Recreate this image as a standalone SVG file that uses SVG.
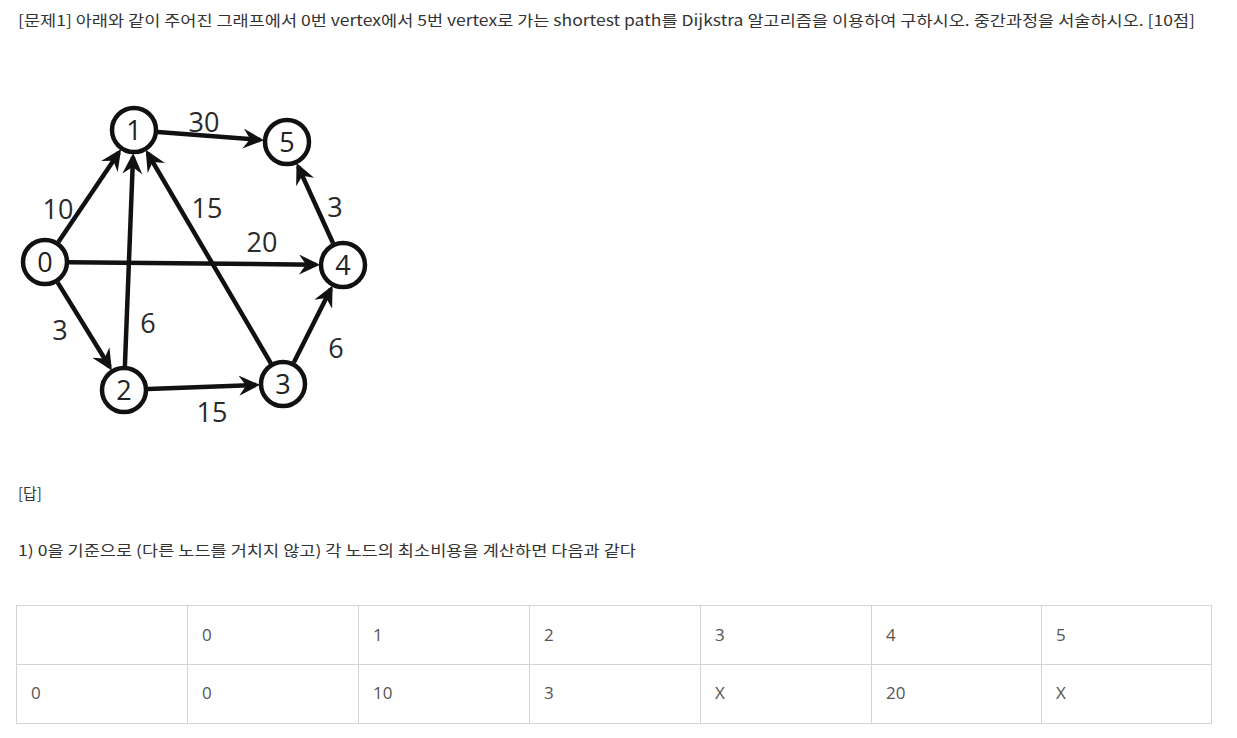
<svg xmlns="http://www.w3.org/2000/svg" width="1237" height="738" viewBox="0 0 1237 738">
<defs>
<style>
.t{font-family:"Noto Sans CJK KR","Noto Sans",sans-serif;font-size:15px;fill:#333}
.n circle{fill:#fff;stroke:#111;stroke-width:4.5}
.n text{font-family:"Open Sans","DejaVu Sans",sans-serif;font-size:27px;fill:#222;text-anchor:middle}
.e line{stroke:#111;stroke-width:4.5;marker-end:url(#ah)}
.lb{font-family:"Open Sans","DejaVu Sans",sans-serif;font-size:27px;fill:#2a2a2a;text-anchor:middle}
.tb{fill:none;stroke:#d4d4d4;stroke-width:1}
.tc{font-family:"Open Sans","Noto Sans",sans-serif;font-size:17px;fill:#555}
</style>
<marker id="ah" markerUnits="userSpaceOnUse" markerWidth="22" markerHeight="20" refX="17" refY="10" orient="auto" viewBox="0 0 22 20">
<path d="M0,0 L21,10 L0,20 L7,10 Z" fill="#111"/>
</marker>
</defs>
<rect width="1237" height="738" fill="#fff"/>
<text class="t" x="18" y="26" textLength="1177" lengthAdjust="spacingAndGlyphs">[문제1] 아래와 같이 주어진 그래프에서 0번 vertex에서 5번 vertex로 가는 shortest path를 Dijkstra 알고리즘을 이용하여 구하시오. 중간과정을 서술하시오. [10점]</text>
<g id="connectors" class="e">
<line x1="58.4" y1="242.1" x2="118.9" y2="152.4"/>
<line x1="124.9" y1="366" x2="133" y2="157"/>
<line x1="270.9" y1="363.3" x2="147.7" y2="153.3"/>
<line x1="157.9" y1="131.9" x2="260.1" y2="139.9"/>
<line x1="69" y1="262.2" x2="316" y2="264.7"/>
<line x1="333.1" y1="243.2" x2="298.2" y2="166.6"/>
<line x1="57.6" y1="282.4" x2="109.8" y2="367"/>
<line x1="148" y1="389.1" x2="256" y2="385"/>
<line x1="293.8" y1="362.6" x2="330.8" y2="289.1"/>
</g>
<g id="edge-labels">
<text class="lb" x="58" y="219">10</text>
<text class="lb" x="204" y="132">30</text>
<text class="lb" x="207" y="218">15</text>
<text class="lb" x="335" y="217">3</text>
<text class="lb" x="262" y="252">20</text>
<text class="lb" x="60" y="340">3</text>
<text class="lb" x="148" y="333">6</text>
<text class="lb" x="336" y="358">6</text>
<text class="lb" x="212" y="422">15</text>
</g>
<g id="node0" class="n"><circle cx="45" cy="262" r="22"/><text x="45" y="272">0</text></g>
<g id="node1" class="n"><circle cx="134" cy="130" r="22"/><text x="134" y="140">1</text></g>
<g id="node2" class="n"><circle cx="124" cy="390" r="22"/><text x="124" y="400">2</text></g>
<g id="node3" class="n"><circle cx="283" cy="384" r="22"/><text x="283" y="394">3</text></g>
<g id="node4" class="n"><circle cx="343" cy="265" r="22"/><text x="343" y="275">4</text></g>
<g id="node5" class="n"><circle cx="287" cy="142" r="22"/><text x="287" y="152">5</text></g>
<text class="t" x="18" y="499">[답]</text>
<text class="t" x="18" y="556" textLength="618" lengthAdjust="spacingAndGlyphs">1) 0을 기준으로 (다른 노드를 거치지 않고) 각 노드의 최소비용을 계산하면 다음과 같다</text>
<g id="table">
<rect class="tb" x="16.5" y="605.5" width="1195" height="118"/>
<line class="tb" x1="16.5" y1="664.5" x2="1211.5" y2="664.5"/>
<line class="tb" x1="187.5" y1="605.5" x2="187.5" y2="723.5"/>
<line class="tb" x1="358.5" y1="605.5" x2="358.5" y2="723.5"/>
<line class="tb" x1="529.5" y1="605.5" x2="529.5" y2="723.5"/>
<line class="tb" x1="700.5" y1="605.5" x2="700.5" y2="723.5"/>
<line class="tb" x1="871.5" y1="605.5" x2="871.5" y2="723.5"/>
<line class="tb" x1="1041.5" y1="605.5" x2="1041.5" y2="723.5"/>
<text class="tc" x="202" y="641">0</text>
<text class="tc" x="373" y="641">1</text>
<text class="tc" x="544" y="641">2</text>
<text class="tc" x="715" y="641">3</text>
<text class="tc" x="886" y="641">4</text>
<text class="tc" x="1056" y="641">5</text>
<text class="tc" x="31" y="699">0</text>
<text class="tc" x="202" y="699">0</text>
<text class="tc" x="373" y="699">10</text>
<text class="tc" x="544" y="699">3</text>
<text class="tc" x="715" y="699">X</text>
<text class="tc" x="886" y="699">20</text>
<text class="tc" x="1056" y="699">X</text>
</g>
</svg>
